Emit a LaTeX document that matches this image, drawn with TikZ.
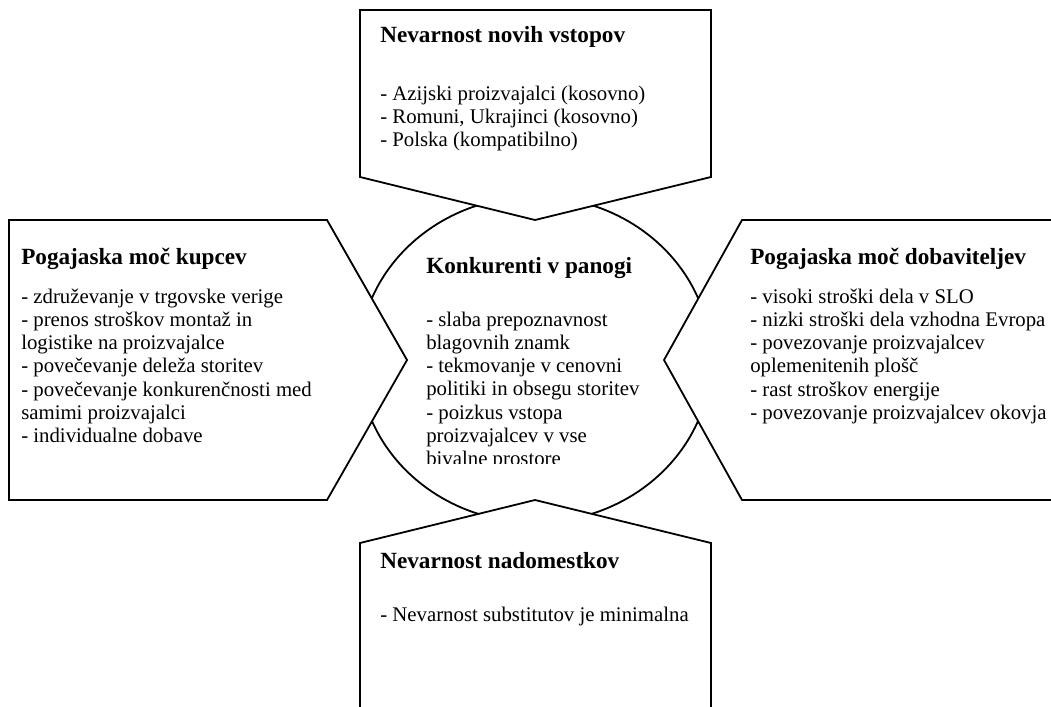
\documentclass[tikz,border=0pt]{standalone}
\usepackage{fontspec}
\setmainfont{Liberation Serif}
\newcommand{\bodyfnt}{\fontsize{15.6pt}{17.475pt}\selectfont}
\newcommand{\ttlfnt}{\fontsize{17.4pt}{20pt}\selectfont\bfseries}
\newcommand{\linesblock}[1]{\begin{tabular}[t]{@{}l@{}}#1\end{tabular}}
\begin{document}
\begin{tikzpicture}[x=0.75pt,y=-0.75pt,
  shapeline/.style={draw=black, line width=1.35pt, fill=white, line join=miter},
  openline/.style={draw=black, line width=1.35pt, line join=miter},
  ttl/.style={anchor=base west, inner sep=0pt, font=\ttlfnt},
  body/.style={anchor=base west, inner sep=0pt, font=\bodyfnt}]
\useasboundingbox (0,0) rectangle (1051,707);
\clip (0,0) rectangle (1051,707);
% central ellipse
\coordinate (c) at (535,359.5);
\draw[openline] (c) ellipse [x radius=132pt, y radius=122.25pt];
% top box
\draw[shapeline] (360,10) -- (711,10) -- (711,177) -- (535,220) -- (360,177) -- cycle;
% left box
\draw[shapeline] (9,220) -- (327,220) -- (407,360) -- (327,500) -- (9,500) -- cycle;
% right box (open to the right edge)
\fill[white] (1070,220) -- (742,220) -- (664,360) -- (742,500) -- (1070,500) -- cycle;
\draw[openline] (1070,220) -- (742,220) -- (664,360) -- (742,500) -- (1070,500);
% bottom box (open at the bottom edge)
\fill[white] (360,730) -- (360,543) -- (535,500) -- (711,543) -- (711,730) -- cycle;
\draw[openline] (360,730) -- (360,543) -- (535,500) -- (711,543) -- (711,730);
% texts
\node[ttl] (topT) at (380,42) {Nevarnost novih vstopov};
\node[body] (topB) at (380,100) {\linesblock{- Azijski proizvajalci (kosovno)\\
- Romuni, Ukrajinci (kosovno)\\
- Polska (kompatibilno)}};
\node[ttl] (leftT) at (21,264) {Pogajaska moč kupcev};
\node[body] (leftB) at (21,303) {\linesblock{- združevanje v trgovske verige\\
- prenos stroškov montaž in\\
logistike na proizvajalce\\
- povečevanje deleža storitev\\
- povečevanje konkurenčnosti med\\
samimi proizvajalci\\
- individualne dobave}};
\node[ttl] (rightT) at (750,264) {Pogajaska moč dobaviteljev};
\node[body] (rightB) at (750,303) {\linesblock{- visoki stroški dela v SLO\\
- nizki stroški dela vzhodna Evropa\\
- povezovanje proizvajalcev\\
oplemenitenih plošč\\
- rast stroškov energije\\
- povezovanje proizvajalcev okovja}};
\node[ttl] (centerT) at (426,273) {Konkurenti v panogi};
\begin{scope}
\clip (400,240) rectangle (700,463);
\node[body] (centerB) at (426,326) {\linesblock{- slaba prepoznavnost\\
blagovnih znamk\\
- tekmovanje v cenovni\\
politiki in obsegu storitev\\
- poizkus vstopa\\
proizvajalcev v vse\\
bivalne prostore}};
\end{scope}
\node[ttl] (botT) at (380,568) {Nevarnost nadomestkov};
\node[body] (botB) at (380,621) {\linesblock{- Nevarnost substitutov je minimalna}};
\end{tikzpicture}
\end{document}
